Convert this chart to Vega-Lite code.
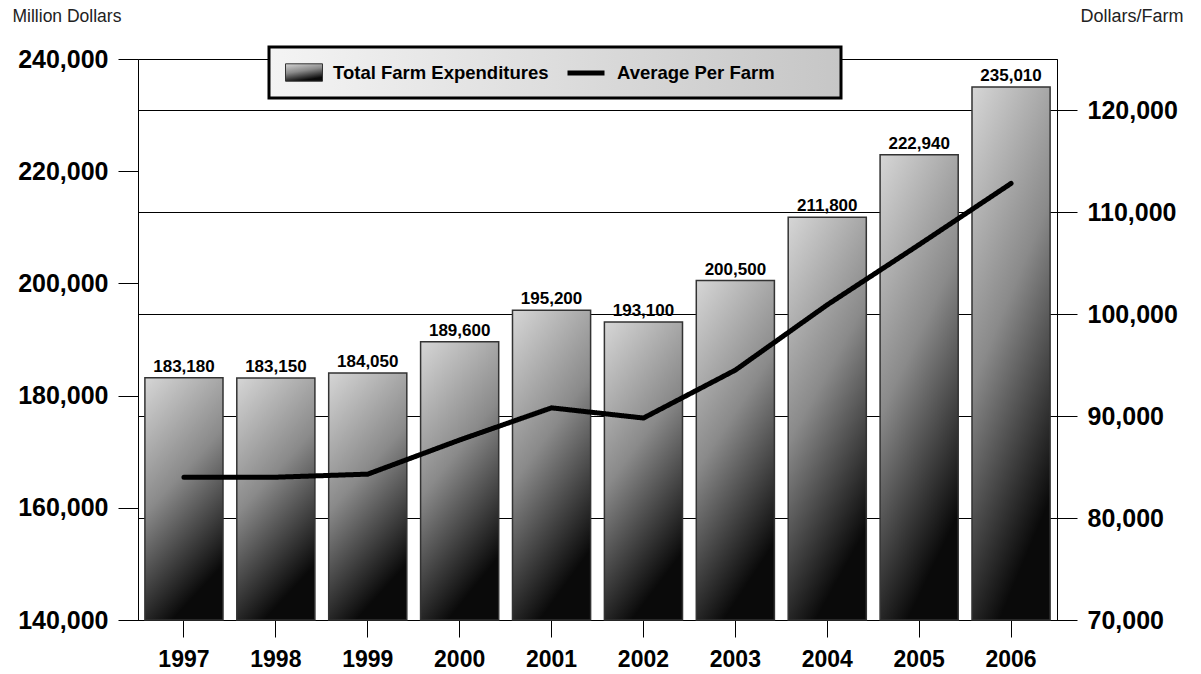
{
  "$schema": "https://vega.github.io/schema/vega-lite/v6.json",
  "width": 919,
  "height": 561,
  "autosize": {"type": "none"},
  "padding": {"left": 138, "top": 59, "right": 144, "bottom": 54},
  "background": "white",
  "config": {
    "font": "Liberation Sans",
    "view": {"stroke": "black", "strokeWidth": 1},
    "legend": {"strokeWidth": 3},
    "axis": {
      "domainColor": "black",
      "tickColor": "black",
      "labelColor": "black",
      "labelFont": "Liberation Sans",
      "labelFontWeight": "bold",
      "titleFont": "Liberation Sans",
      "titleFontWeight": "normal",
      "titleColor": "#222222"
    }
  },
  "data": {
    "values": [
      {"year": "1997", "total": 183180, "avg": 84000},
      {"year": "1998", "total": 183150, "avg": 84000},
      {"year": "1999", "total": 184050, "avg": 84300},
      {"year": "2000", "total": 189600, "avg": 87650},
      {"year": "2001", "total": 195200, "avg": 90800},
      {"year": "2002", "total": 193100, "avg": 89800},
      {"year": "2003", "total": 200500, "avg": 94500},
      {"year": "2004", "total": 211800, "avg": 100900},
      {"year": "2005", "total": 222940, "avg": 106800},
      {"year": "2006", "total": 235010, "avg": 112800}
    ]
  },
  "encoding": {
    "x": {
      "field": "year",
      "type": "ordinal",
      "scale": {"paddingInner": 0.15, "paddingOuter": 0.075},
      "axis": {
        "title": null,
        "labelAngle": 0,
        "labelFontSize": 23,
        "tickSize": 17,
        "labelPadding": 11,
        "domain": true
      }
    }
  },
  "layer": [
    {
      "encoding": {
        "y": {
          "field": "total",
          "type": "quantitative",
          "scale": {"domain": [140000, 240000], "zero": false, "nice": false},
          "axis": {
            "title": "Million Dollars",
            "titleAngle": 0,
            "titleAlign": "left",
            "titleBaseline": "alphabetic",
            "titleX": -126,
            "titleY": -38,
            "titleFontSize": 17.5,
            "values": [140000, 160000, 180000, 200000, 220000, 240000],
            "labelExpr": "format(datum.value, ',')",
            "labelFontSize": 25,
            "tickSize": 20,
            "labelPadding": 10,
            "grid": false
          }
        }
      },
      "layer": [
        {
          "mark": {
            "type": "bar",
            "fill": {
              "gradient": "linear",
              "x1": 0, "y1": 0, "x2": 0.35, "y2": 1,
              "stops": [
                {"offset": 0, "color": "#d6d6d6"},
                {"offset": 0.5, "color": "#8a8a8a"},
                {"offset": 1, "color": "#0a0a0a"}
              ]
            },
            "strokeWidth": 1.5
          },
          "encoding": {
            "y2": {"datum": 140000},
            "stroke": {
              "datum": "Total Farm Expenditures",
              "scale": {
                "domain": ["Total Farm Expenditures"],
                "range": ["#333333"]
              },
              "legend": {
                "title": "\u2800\u2800\u2800\u2800\u2800\u2800\u2800\u2800\u2800\u2800\u2800\u2800\u2800\u2800\u2800\u2800\u2800\u2800\u2800\u2800\u2800\u2800\u2800\u2800\u2800\u2800\u2800\u2800\u2800",
                "titleOrient": "right",
                "titleFont": "DejaVu Sans",
                "titleFontSize": 12,
                "titlePadding": 4,
                "titleLimit": 0,
                "orient": "none",
                "direction": "horizontal",
                "legendX": 131,
                "legendY": -12,
                "padding": 16,
                "clipHeight": 19,
                "labelOffset": 10,
                "labelLimit": 0,
                "labelFontSize": 18.5,
                "labelFontWeight": "bold",
                "labelColor": "black",
                "labelFont": "Liberation Sans",
                "symbolType": "M-1,-0.47H1V0.47H-1Z",
                "symbolSize": 1369,
                "symbolStrokeWidth": 1,
                "strokeColor": "black",
                "fillColor": {"value": {
                  "gradient": "linear", "x1": 0, "y1": 0, "x2": 1, "y2": 0,
                  "stops": [{"offset": 0, "color": "#f4f4f4"}, {"offset": 1, "color": "#c6c6c6"}]
                }}
              }
            }
          }
        },
        {
          "mark": {
            "type": "text",
            "baseline": "alphabetic",
            "dy": -6,
            "fontSize": 17,
            "fontWeight": "bold",
            "font": "Liberation Sans",
            "color": "black"
          },
          "encoding": {
            "text": {"field": "total", "type": "quantitative", "format": ","}
          }
        }
      ]
    },
    {
      "mark": {"type": "line", "stroke": "black", "strokeWidth": 5, "strokeCap": "round", "strokeJoin": "round"},
      "encoding": {
        "y": {
          "field": "avg",
          "type": "quantitative",
          "scale": {"domain": [70000, 125000], "zero": false, "nice": false},
          "axis": {
            "orient": "right",
            "title": "Dollars/Farm",
            "titleAngle": 0,
            "titleAlign": "right",
            "titleBaseline": "alphabetic",
            "titleX": 126,
            "titleY": -38,
            "titleFontSize": 18,
            "values": [70000, 80000, 90000, 100000, 110000, 120000],
            "labelExpr": "format(datum.value, ',')",
            "labelFontSize": 25,
            "tickSize": 20,
            "labelPadding": 10,
            "grid": true,
            "gridColor": "black",
            "gridWidth": 1
          }
        },
        "strokeDash": {
          "datum": "Average  Per Farm",
          "scale": {"domain": ["Average  Per Farm"], "range": [[1, 0]]},
          "legend": {
            "title": null,
            "orient": "none",
            "direction": "horizontal",
            "legendX": 427,
            "legendY": 4.5,
            "padding": 0,
            "clipHeight": 19,
            "labelOffset": 10,
            "labelLimit": 0,
            "labelFontSize": 18.5,
            "labelFontWeight": "bold",
            "labelColor": "black",
            "labelFont": "Liberation Sans",
            "symbolType": "stroke",
            "symbolSize": 1369,
            "symbolStrokeWidth": 5,
            "symbolStrokeColor": "black"
          }
        }
      }
    }
  ],
  "resolve": {"scale": {"y": "independent"}}
}
